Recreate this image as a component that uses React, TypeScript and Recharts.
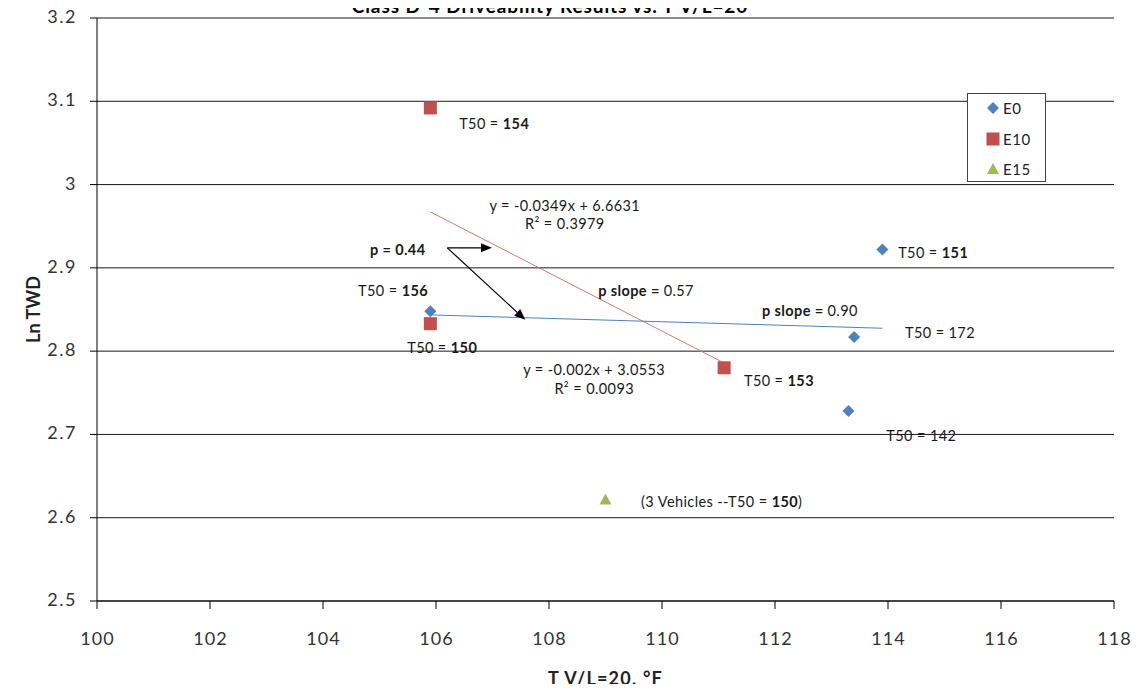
import React from 'react';
import {
  ScatterChart,
  Scatter,
  XAxis,
  YAxis,
  CartesianGrid,
  ReferenceLine,
  ReferenceDot,
  Legend,
  Label,
} from 'recharts';

const FONT = "Lato, 'Open Sans', 'DejaVu Sans', sans-serif";

// Axis ticks
const xTicks = [100, 102, 104, 106, 108, 110, 112, 114, 116, 118];
const yTicks = [2.5, 2.6, 2.7, 2.8, 2.9, 3.0, 3.1, 3.2];

// E0 vehicles: T V/L=20 (°F) and Ln TWD
const e0X = [105.9, 113.9, 113.4, 113.3];
const e0Y = [2.848, 2.922, 2.817, 2.728];

// E10 vehicles
const e10X = [105.9, 105.9, 111.1];
const e10Y = [3.092, 2.833, 2.78];

// E15 vehicles (3 vehicles averaged)
const e15X = [109.0];
const e15Y = [2.622];

// Linear fits printed on the chart
const e0Fit = { slope: -0.002, intercept: 3.0553, from: 105.9, to: 113.9 };
const e10Fit = { slope: -0.0349, intercept: 6.6631, from: 105.9, to: 111.1 };

const COLORS = { e0: '#4F81BD', e10: '#C0504D', e15: '#9BBB59' };

const toPoints = (xs: number[], ys: number[]) => xs.map((x, i) => ({ x, y: ys[i] }));
const e0Data = toPoints(e0X, e0Y);
const e10Data = toPoints(e10X, e10Y);
const e15Data = toPoints(e15X, e15Y);

const fitSegment = (f: { slope: number; intercept: number; from: number; to: number }) => [
  { x: f.from, y: f.slope * f.from + f.intercept },
  { x: f.to, y: f.slope * f.to + f.intercept },
];

type Part = [string, boolean];
type Note = { x: number; y: number; anchor: 'start' | 'middle'; parts: Part[] };

// Callouts placed in data coordinates
const notes: Note[] = [
  { x: 106.41, y: 3.074, anchor: 'start', parts: [['T50 = ', false], ['154', true]] },
  { x: 108.28, y: 2.9756, anchor: 'middle', parts: [['y = -0.0349x + 6.6631', false]] },
  { x: 108.28, y: 2.954, anchor: 'middle', parts: [['R² = 0.3979', false]] },
  { x: 104.83, y: 2.9228, anchor: 'start', parts: [['p = 0.44', true]] },
  { x: 104.62, y: 2.8736, anchor: 'start', parts: [['T50 = ', false], ['156', true]] },
  { x: 108.87, y: 2.8736, anchor: 'start', parts: [['p slope = ', true], ['0.57', false]] },
  { x: 111.77, y: 2.8496, anchor: 'start', parts: [['p slope = ', true], ['0.90', false]] },
  { x: 114.3, y: 2.8232, anchor: 'start', parts: [['T50 = 172', false]] },
  { x: 114.18, y: 2.9192, anchor: 'start', parts: [['T50 = ', false], ['151', true]] },
  { x: 105.49, y: 2.8052, anchor: 'start', parts: [['T50 = ', false], ['150', true]] },
  { x: 108.8, y: 2.7788, anchor: 'middle', parts: [['y = -0.002x + 3.0553', false]] },
  { x: 108.8, y: 2.756, anchor: 'middle', parts: [['R² = 0.0093', false]] },
  { x: 111.45, y: 2.7656, anchor: 'start', parts: [['T50 = ', false], ['153', true]] },
  { x: 113.97, y: 2.6996, anchor: 'start', parts: [['T50 = 142', false]] },
  { x: 109.63, y: 2.6204, anchor: 'start', parts: [['(3 Vehicles --T50 = ', false], ['150', true], [')', false]] },
];

// Arrows from the "p = 0.44" callout to the two fit lines
const arrows = [
  { x1: 106.2, y1: 2.924, x2: 106.99, y2: 2.924 },
  { x1: 106.2, y1: 2.924, x2: 107.58, y2: 2.8376 },
];

const Diamond = (p: any) => {
  const { cx, cy } = p;
  const r = 6;
  return (
    <polygon
      points={`${cx},${cy - r} ${cx + r},${cy} ${cx},${cy + r} ${cx - r},${cy}`}
      fill={COLORS.e0}
    />
  );
};

const Square = (p: any) => {
  const { cx, cy } = p;
  const h = 6.5;
  return <rect x={cx - h} y={cy - h} width={h * 2} height={h * 2} fill={COLORS.e10} />;
};

const Triangle = (p: any) => {
  const { cx, cy } = p;
  return (
    <polygon
      points={`${cx},${cy - 6} ${cx + 6},${cy + 5} ${cx - 6},${cy + 5}`}
      fill={COLORS.e15}
    />
  );
};

const ArrowShape = (p: any) => {
  const { x1, y1, x2, y2 } = p;
  const a = Math.atan2(y2 - y1, x2 - x1);
  const L = 11;
  const W = 4.5;
  const bx = x2 - L * Math.cos(a);
  const by = y2 - L * Math.sin(a);
  return (
    <g>
      <line x1={x1} y1={y1} x2={bx} y2={by} stroke="#000" strokeWidth={1.2} />
      <polygon
        points={`${x2},${y2} ${bx - W * Math.sin(a)},${by + W * Math.cos(a)} ${bx + W * Math.sin(a)},${by - W * Math.cos(a)}`}
        fill="#000"
      />
    </g>
  );
};

const XTick = (p: any) => {
  const { x, y, payload } = p;
  return (
    <text
      x={x + 0.5}
      y={y + 27}
      textAnchor="middle"
      dominantBaseline="central"
      fontFamily={FONT}
      fontSize={18}
      letterSpacing={1}
      fill="#333"
    >
      {payload.value}
    </text>
  );
};

const YTick = (p: any) => {
  const { x, y, payload } = p;
  return (
    <text
      x={x - 11}
      y={y - 2}
      textAnchor="end"
      dominantBaseline="central"
      fontFamily={FONT}
      fontSize={18}
      letterSpacing={1.5}
      fill="#333"
    >
      {String(Math.round(payload.value * 10) / 10)}
    </text>
  );
};

const legendItems = [
  { name: 'E0', Shape: Diamond },
  { name: 'E10', Shape: Square },
  { name: 'E15', Shape: Triangle },
];

const LegendBox = () => (
  <div
    style={{
      width: 79,
      height: 89,
      border: '1px solid #444',
      background: '#fff',
      boxSizing: 'border-box',
      position: 'relative',
      fontFamily: FONT,
      fontSize: 15,
      letterSpacing: 0.6,
      color: '#222',
    }}
  >
    {legendItems.map((it, i) => (
      <div
        key={it.name}
        style={{ position: 'absolute', left: 18, top: 5 + i * 30.5, height: 18, display: 'flex', alignItems: 'center' }}
      >
        <svg width={16} height={18} style={{ overflow: 'visible' }}>
          <it.Shape cx={7} cy={9} />
        </svg>
        <span style={{ marginLeft: 1 }}>{it.name}</span>
      </div>
    ))}
  </div>
);

export default function App() {
  return (
    <div
      style={{
        position: 'relative',
        width: 1138,
        height: 692,
        margin: '-8px 0 -8px -8px',
        overflow: 'hidden',
        background: '#fff',
      }}
    >
      <div
        style={{
          position: 'absolute',
          top: -3,
          left: -19,
          width: 1138,
          textAlign: 'center',
          fontFamily: FONT,
          fontWeight: 700,
          fontSize: 19,
          lineHeight: '18px',
          letterSpacing: 0.9,
          color: '#000',
          zIndex: 2,
        }}
      >
        Class D-4 Driveability Results vs. T V/L=20
      </div>
      <ScatterChart width={1138} height={692} margin={{ top: 18, right: 24, bottom: 0, left: 0 }}>
        <CartesianGrid horizontal vertical={false} stroke="#000" strokeOpacity={0.9} />
        <XAxis
          type="number"
          dataKey="x"
          domain={[100, 118]}
          ticks={xTicks}
          interval={0}
          allowDataOverflow
          height={91}
          tickSize={8}
          axisLine={{ stroke: '#000' }}
          tickLine={{ stroke: '#000' }}
          tick={<XTick />}
        >
          <Label
            content={(p: any) => {
              const vb = p.viewBox;
              return (
                <text
                  x={vb.x + vb.width / 2}
                  y={vb.y + 77}
                  textAnchor="middle"
                  dominantBaseline="central"
                  fontFamily={FONT}
                  fontWeight={700}
                  fontSize={18}
                  letterSpacing={1.2}
                  fill="#222"
                >
                  T V/L=20, °F
                </text>
              );
            }}
          />
        </XAxis>
        <YAxis
          type="number"
          dataKey="y"
          domain={[2.5, 3.2]}
          ticks={yTicks}
          interval={0}
          allowDataOverflow
          width={97}
          tickSize={7}
          axisLine={{ stroke: '#000' }}
          tickLine={{ stroke: '#000' }}
          tick={<YTick />}
        >
          <Label
            content={(p: any) => {
              const vb = p.viewBox;
              const cx = vb.x + 33;
              const cy = vb.y + vb.height / 2;
              return (
                <text
                  x={cx}
                  y={cy}
                  transform={`rotate(-90 ${cx} ${cy})`}
                  textAnchor="middle"
                  dominantBaseline="central"
                  fontFamily={FONT}
                  fontWeight={700}
                  fontSize={18}
                  fill="#222"
                >
                  Ln TWD
                </text>
              );
            }}
          />
        </YAxis>

        <ReferenceLine
          segment={fitSegment(e10Fit)}
          stroke="#D27A76"
          strokeWidth={1}
          ifOverflow="visible"
        />
        <ReferenceLine
          segment={fitSegment(e0Fit)}
          stroke={COLORS.e0}
          strokeWidth={1}
          ifOverflow="visible"
        />

        <Scatter name="E0" data={e0Data} shape={Diamond} isAnimationActive={false} />
        <Scatter name="E10" data={e10Data} shape={Square} isAnimationActive={false} />
        <Scatter name="E15" data={e15Data} shape={Triangle} isAnimationActive={false} />

        {arrows.map((a, i) => (
          <ReferenceLine
            key={`arrow-${i}`}
            segment={[
              { x: a.x1, y: a.y1 },
              { x: a.x2, y: a.y2 },
            ]}
            ifOverflow="visible"
            shape={ArrowShape}
          />
        ))}

        {notes.map((n, i) => (
          <ReferenceDot
            key={`note-${i}`}
            x={n.x}
            y={n.y}
            r={0}
            ifOverflow="visible"
            shape={(p: any) => (
              <text
                x={p.cx}
                y={p.cy}
                textAnchor={n.anchor}
                dominantBaseline="central"
                fontFamily={FONT}
                fontSize={14.5}
                letterSpacing={0.4}
                fill="#1a1a1a"
              >
                {n.parts.map(([t, b], j) => (
                  <tspan key={j} fontWeight={b ? 700 : 400}>
                    {t}
                  </tspan>
                ))}
              </text>
            )}
          />
        ))}

        <Legend
          layout="horizontal"
          verticalAlign="middle"
          align="center"
          wrapperStyle={{ position: 'absolute', left: 967, top: 93, width: 79, height: 89 }}
          content={() => <LegendBox />}
        />
      </ScatterChart>
    </div>
  );
}
